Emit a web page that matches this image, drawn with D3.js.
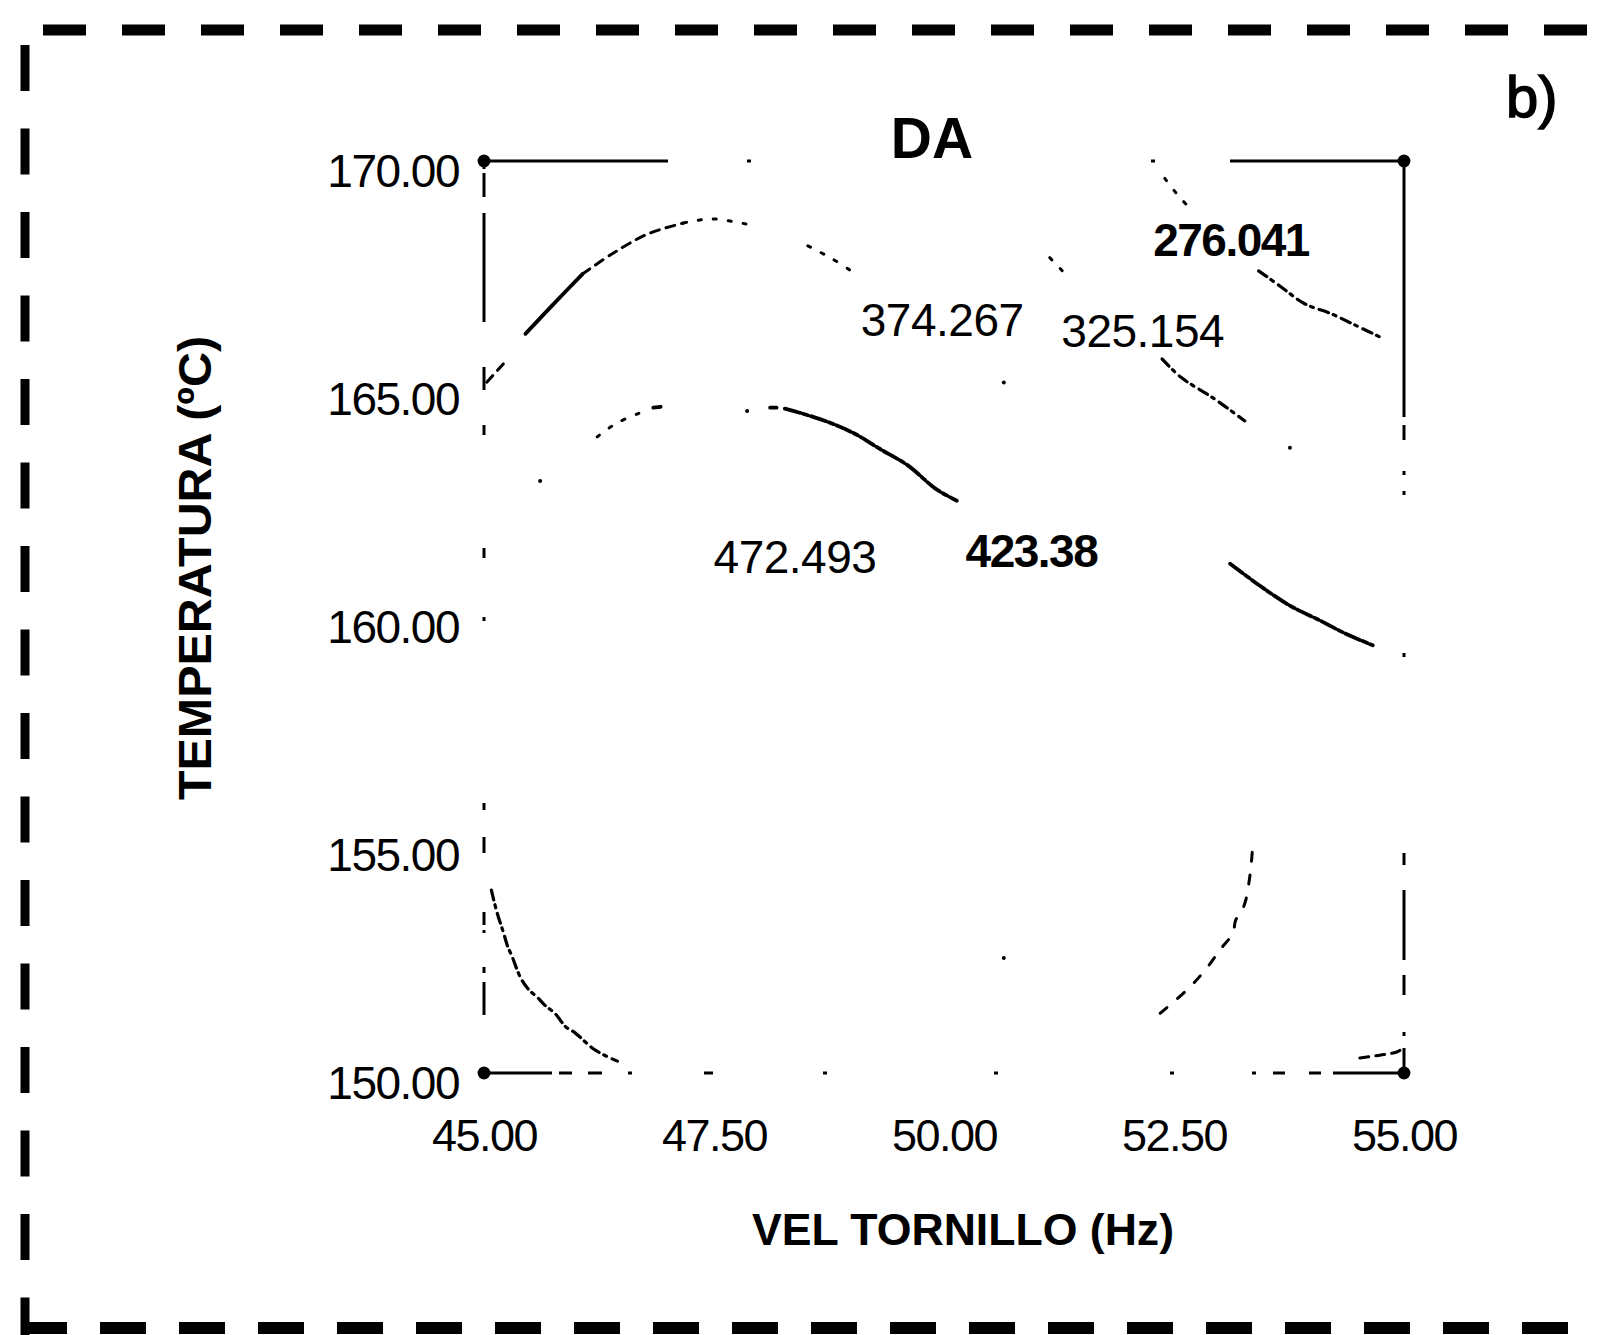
<!DOCTYPE html>
<html>
<head>
<meta charset="utf-8">
<script src="https://cdn.jsdelivr.net/npm/d3@7/dist/d3.min.js"></script>
<style>
  html, body { margin: 0; padding: 0; background: #fff; }
  svg { display: block; }
  text { font-family: "Liberation Sans", Arial, Helvetica, sans-serif; fill: #000; }
</style>
</head>
<body>
<svg id="chart" width="1598" height="1335"></svg>
<script>
// ---------- data ----------
const xTicks = [45, 47.5, 50, 52.5, 55];
const yTicks = [150, 155, 160, 165, 170];
const xDomain = [45, 55];
const yDomain = [150, 170];

const title = "DA";
const panelTag = "b)";
const xTitle = "VEL TORNILLO (Hz)";
const yTitle = "TEMPERATURA (ºC)";

// contour levels and label positions (x = screw speed, y = temperature)
const levels = [276.041, 325.154, 374.267, 423.38, 472.493];
const levelText = ["276.041", "325.154", "374.267", "423.38", "472.493"];
const labelX = [53.12, 52.16, 49.98, 50.95, 48.38];
const labelY = [168.29, 166.29, 166.53, 161.47, 161.32];

// visible fragments of each contour line (scanned original is broken)
const c276_a = [[52.40,169.62],[52.53,169.28],[52.66,168.99]];
const c276_b = [[53.42,167.59],[53.65,167.26],[53.92,166.87],[54.21,166.65],[54.47,166.40],[54.76,166.12]];

const c325_a = [[51.15,167.88],[51.32,167.52]];
const c325_b = [[52.37,165.66],[52.58,165.25],[52.92,164.81],[53.27,164.30]];
const c325_dots = [[53.76,163.71]];

const c374_a = [[45.03,165.15],[45.21,165.55]];
const c374_b = [[45.45,166.21],[45.75,166.85],[46.07,167.52]];
const c374_c = [[46.07,167.52],[46.39,167.96],[46.78,168.40],[47.17,168.64]];
const c374_d = [[47.17,168.64],[47.48,168.73],[47.89,168.60]];
const c374_e = [[48.52,168.14],[48.79,167.85],[48.99,167.59]];
const c374_dots = [[50.65,165.14]];

const c423_a = [[46.23,163.95],[46.32,164.09],[46.47,164.28],[46.70,164.48]];
const c423_b = [[46.84,164.59],[46.92,164.61]];
const c423_c = [[48.11,164.59],[48.18,164.59]];
const c423_d = [[48.27,164.57],[48.43,164.48],[48.76,164.26],[49.03,164.02],[49.30,163.69],[49.61,163.32],[49.91,162.81],[50.14,162.55]];
const c423_e = [[53.11,161.17],[53.43,160.69],[53.76,160.25],[54.09,159.92],[54.36,159.64],[54.66,159.38]];
const c423_f = [[54.52,150.33],[54.74,150.39],[54.92,150.46],[55.0,150.55]];
const c423_dots = [[47.86,164.52]];

const c472_a = [[45.08,154.01],[45.14,153.53],[45.21,153.09],[45.26,152.76],[45.30,152.58],[45.40,152.08],[45.49,151.82],[45.58,151.66],[45.66,151.49],[45.77,151.31],[45.89,151.01],[45.99,150.88],[46.21,150.50],[46.45,150.26]];
const c472_b = [[53.35,154.84],[53.33,154.40],[53.28,153.79],[53.24,153.57],[53.17,153.35],[53.14,153.07],[53.00,152.70],[52.84,152.26],[52.64,151.82],[52.35,151.31]];
const c472_dots = [[45.61,162.98],[50.65,152.52]];

// ---------- layout / style ----------
const svg = d3.select("#chart");
const x = d3.scaleLinear().domain(xDomain).range([484, 1404]);
const y = d3.scaleLinear().domain(yDomain).range([1073, 161]);
const FONT = '"Liberation Sans", Arial, Helvetica, sans-serif';

const styles = {
  solid:   { w: 3.8, dash: null },
  heavy:   { w: 3.8, dash: "16,3,5,3" },
  dash:    { w: 3.0, dash: "9,7" },
  dot:     { w: 3.0, dash: "3,12" },
  dashdot: { w: 3.2, dash: "10,5,3,6" },
  sparse:  { w: 3.0, dash: "9,14" }
};

const fragments = [
  { pts: c276_a, s: "dot" }, { pts: c276_b, s: "dashdot" },
  { pts: c325_a, s: "dot" }, { pts: c325_b, s: "dashdot" },
  { pts: c374_a, s: "dash" }, { pts: c374_b, s: "solid" }, { pts: c374_c, s: "dash" },
  { pts: c374_d, s: "dot" }, { pts: c374_e, s: "dot" },
  { pts: c423_a, s: "dot" }, { pts: c423_b, s: "solid" }, { pts: c423_c, s: "solid" },
  { pts: c423_d, s: "heavy" }, { pts: c423_e, s: "heavy" }, { pts: c423_f, s: "dash" },
  { pts: c472_a, s: "dashdot" }, { pts: c472_b, s: "sparse" }
];
const strayDots = [].concat(c325_dots, c374_dots, c423_dots, c472_dots);

// ---------- outer dashed panel border ----------
const border = svg.append("g").attr("stroke", "#000").attr("fill", "none");
border.append("line").attr("x1", 43).attr("x2", 1598).attr("y1", 30).attr("y2", 30)
  .attr("stroke-width", 11).attr("stroke-dasharray", "43,36");
border.append("line").attr("x1", 25).attr("x2", 25).attr("y1", 45).attr("y2", 1335)
  .attr("stroke-width", 9).attr("stroke-dasharray", "46,37.5");
border.append("line").attr("x1", 21).attr("x2", 1598).attr("y1", 1328).attr("y2", 1328)
  .attr("stroke-width", 12).attr("stroke-dasharray", "46,33");

// ---------- plot frame (broken, like the scan) ----------
const frame = svg.append("g").attr("stroke", "#000").attr("fill", "none").attr("stroke-width", 3);
const [x0, x1] = xDomain, [y0, y1] = yDomain;
frame.append("line").attr("x1", x(x0)).attr("x2", x(x1)).attr("y1", y(y1)).attr("y2", y(y1))
  .attr("stroke-dasharray", "184,79,4,400,4,75,174");
frame.append("line").attr("x1", x(x0)).attr("x2", x(x1)).attr("y1", y(y0)).attr("y2", y(y0))
  .attr("stroke-dasharray", "68,7,13,16,14,26,4,72,9,110,4,167,4,172,4,78,4,17,12,24,12,12,71");
frame.append("line").attr("x1", x(x0)).attr("x2", x(x0)).attr("y1", y(y1)).attr("y2", y(y0))
  .attr("stroke-dasharray", "8,4,24,16,109,45,23,35,10,113,10,59,4,182,7,27,16,59,13,5,3,34,6,9,33,58");
frame.append("line").attr("x1", x(x1)).attr("x2", x(x1)).attr("y1", y(y1)).attr("y2", y(y0))
  .attr("stroke-dasharray", "256,8,15,31,4,16,4,158,4,196,12,25,70,15,20,37,4,12,25");

// corner markers
const corners = [[x0, y0], [x0, y1], [x1, y0], [x1, y1]];
svg.append("g").selectAll("path").data(corners).join("path")
  .attr("transform", d => `translate(${x(d[0])},${y(d[1])})`)
  .attr("d", d3.symbol().type(d3.symbolCircle).size(130))
  .attr("fill", "#000");

// ---------- axes (labels only) ----------
const fmt = d3.format(".2f");
const xAxis = svg.append("g").attr("transform", `translate(0,${y(y0)})`)
  .call(d3.axisBottom(x).tickValues(xTicks).tickFormat(fmt).tickSize(0).tickPadding(46));
xAxis.select(".domain").remove();
xAxis.selectAll("text").attr("font-family", FONT).attr("font-size", 45).attr("fill", "#000")
  .attr("letter-spacing", -1.5);

const yAxis = svg.append("g").attr("transform", `translate(${x(x0)},0)`)
  .call(d3.axisLeft(y).tickValues(yTicks).tickFormat(fmt).tickSize(0).tickPadding(25));
yAxis.select(".domain").remove();
yAxis.selectAll("text").attr("font-family", FONT).attr("font-size", 46).attr("fill", "#000")
  .attr("dy", "0.55em").attr("letter-spacing", -1.5);

// ---------- contour lines ----------
const line = d3.line().x(d => x(d[0])).y(d => y(d[1])).curve(d3.curveCatmullRom);
const cg = svg.append("g").attr("fill", "none").attr("stroke", "#000")
  .attr("stroke-linecap", "round");
fragments.forEach(f => {
  const st = styles[f.s];
  cg.append("path").attr("d", line(f.pts))
    .attr("stroke-width", st.w)
    .attr("stroke-dasharray", st.dash);
});
svg.append("g").selectAll("circle").data(strayDots).join("circle")
  .attr("cx", d => x(d[0])).attr("cy", d => y(d[1])).attr("r", 2).attr("fill", "#000");

// contour labels
const boldLevels = [true, false, false, true, false];
svg.append("g").selectAll("text").data(levels).join("text")
  .attr("x", (d, i) => x(labelX[i]))
  .attr("y", (d, i) => y(labelY[i]))
  .attr("dy", "0.36em")
  .attr("text-anchor", "middle")
  .attr("font-size", 46)
  .attr("font-weight", (d, i) => boldLevels[i] ? "bold" : "normal")
  .attr("letter-spacing", (d, i) => boldLevels[i] ? -1.5 : -0.5)
  .text((d, i) => levelText[i]);

// ---------- titles ----------
svg.append("text").attr("x", 932).attr("y", 158).attr("text-anchor", "middle")
  .attr("font-size", 57).attr("font-weight", "bold").text(title);
svg.append("text").attr("x", 1506).attr("y", 117)
  .attr("font-size", 58).attr("stroke", "#000").attr("stroke-width", 1.5).text(panelTag);
svg.append("text").attr("x", 963).attr("y", 1245).attr("text-anchor", "middle")
  .attr("font-size", 45).attr("font-weight", "bold")
  .attr("textLength", 422).attr("lengthAdjust", "spacingAndGlyphs").text(xTitle);
svg.append("text").attr("transform", "translate(211,568) rotate(-90)")
  .attr("text-anchor", "middle")
  .attr("font-size", 47).attr("font-weight", "bold")
  .attr("textLength", 464).attr("lengthAdjust", "spacingAndGlyphs").text(yTitle);
</script>
</body>
</html>
